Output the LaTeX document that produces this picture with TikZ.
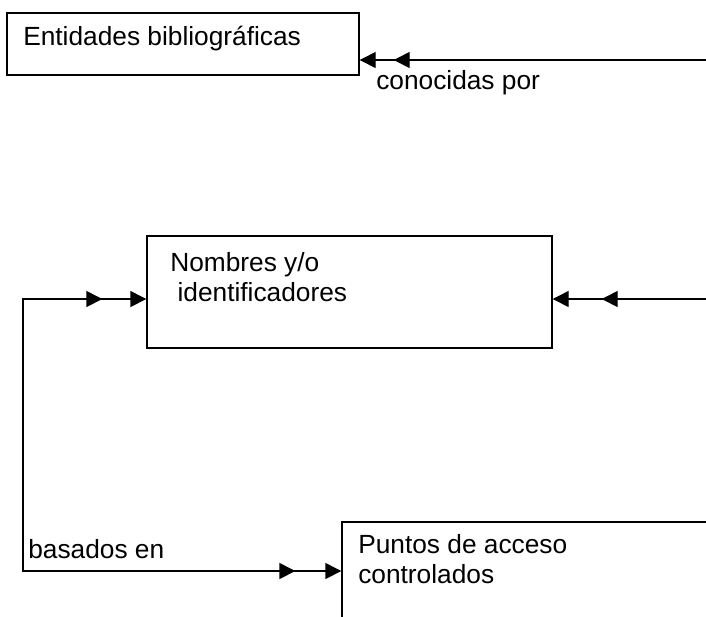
\documentclass[tikz,border=0pt]{standalone}
\usepackage{fontspec}
\setmainfont{Liberation Sans}
\usetikzlibrary{arrows.meta,decorations.markings}

\begin{document}
\begin{tikzpicture}[
  >={Triangle[length=0.4cm, width=0.4cm]},
  font=\fontsize{18.7}{21.5}\selectfont,
  box/.style={draw, line width=1pt, rectangle, inner sep=0pt},
  txt/.style={inner sep=0pt, align=left},
  arrowD/.style={line width=1pt, ->, postaction={decorate},
    decoration={markings, mark=at position -#1 with {\arrow{>}}}},
  arrowL/.style 2 args={line width=1pt, <->, postaction={decorate},
    decoration={markings, mark=at position #1 with {\arrowreversed{>}},
      mark=at position -#2 with {\arrow{>}}}}
]
\useasboundingbox (0,0) rectangle (17.65,-15.4);
\clip (0,0) rectangle (17.65,-15.4);

% Boxes
\node[box, minimum width=8.8cm, minimum height=1.55cm] (ent) at (4.575,-1.1) {};
\node[box, minimum width=10.125cm, minimum height=2.8cm] (nom) at (8.7375,-7.3) {};
\node[box, minimum width=9.45cm, minimum height=2.45cm] (pun) at (13.275,-14.275) {};

% Texts
\node[txt, anchor=base west] (entT) at (0.575,-1.125) {Entidades bibliográficas};
\node[txt, anchor=base west] (con) at (9.4,-2.225) {conocidas por};
\node[txt, anchor=north west] (nomT) at (4.25,-6.3) {Nombres y/o\\~identificadores};
\node[txt, anchor=north west] (punT) at (8.95,-13.35) {Puntos de acceso\\controlados};
\node[txt, anchor=base west] (bas) at (0.7,-13.95) {basados en};

% Loose ends and the bend on the left
\coordinate (srcA) at (17.8,-1.5);
\coordinate (srcB) at (17.8,-7.475);
\coordinate (bend) at (0.575,-7.475);

% Connectors
\draw[arrowD=0.85cm] (srcA) -- (ent.east |- srcA);
\draw[arrowD=1.225cm] (srcB) -- (nom.east |- srcB);
\draw[arrowL={1.1cm}{1.15cm}] (nom.west |- bend) -- (bend) |- (pun.west);
\end{tikzpicture}
\end{document}
